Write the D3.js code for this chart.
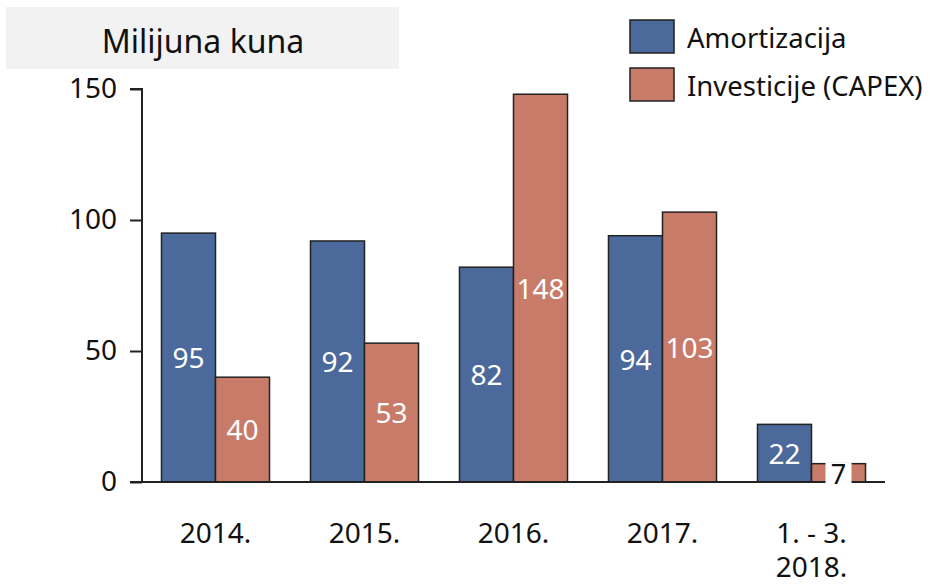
<!DOCTYPE html>
<html>
<head>
<meta charset="utf-8">
<script src="https://cdn.jsdelivr.net/npm/d3@7"></script>
<style>
body { margin: 0; background: #fff; }
text { font-family: "Noto Sans", "Open Sans", sans-serif; }
</style>
</head>
<body>
<svg id="chart" width="930" height="584"></svg>
<script>
var categories = ["2014.", "2015.", "2016.", "2017.", "1. - 3.|2018."];
var seriesNames = ["Amortizacija", "Investicije (CAPEX)"];
var amortizacija = [95, 92, 82, 94, 22];
var capex = [40, 53, 148, 103, 7];
var yTicks = [0, 50, 100, 150];
var colors = ["#4b6a9b", "#c97b69"];

var svg = d3.select("#chart");

var x = d3.scaleBand()
    .domain(categories)
    .range([141, 886])
    .paddingInner(0.275)
    .paddingOuter(0.1375);

var xs = d3.scaleBand()
    .domain([0, 1])
    .range([0, x.bandwidth()]);

var y = d3.scaleLinear()
    .domain([0, 150])
    .range([482, 89]);

// title box
svg.append("rect")
    .attr("x", 6).attr("y", 7)
    .attr("width", 393).attr("height", 62)
    .attr("fill", "#f2f2f2");
svg.append("text")
    .attr("x", 203).attr("y", 53)
    .attr("text-anchor", "middle")
    .attr("font-size", 32)
    .attr("fill", "#111")
    .text("Milijuna kuna");

// y axis
var yAxis = svg.append("g")
    .attr("transform", "translate(142,0)")
    .call(d3.axisLeft(y).tickValues(yTicks).tickSize(12).tickPadding(13));
yAxis.selectAll("path").attr("stroke", "#222").attr("stroke-width", 2).attr("d", "M-12," + y(150) + "H0V" + y(0));
yAxis.selectAll("line").attr("stroke", "#222").attr("stroke-width", 2);
yAxis.selectAll("text").attr("font-size", 28).attr("fill", "#111");

var data = categories.map(function(c, i) {
    return {cat: c, values: [amortizacija[i], capex[i]]};
});

var groups = svg.append("g").selectAll("g")
    .data(data).enter().append("g")
    .attr("transform", function(d) { return "translate(" + x(d.cat) + ",0)"; });

groups.selectAll("rect")
    .data(function(d) { return d.values.map(function(v, k) { return {k: k, v: v}; }); })
    .enter().append("rect")
    .attr("x", function(d) { return xs(d.k); })
    .attr("y", function(d) { return y(d.v); })
    .attr("width", xs.bandwidth())
    .attr("height", function(d) { return y(0) - y(d.v); })
    .attr("fill", function(d) { return colors[d.k]; })
    .attr("stroke", "#222")
    .attr("stroke-width", 1.5);

// x baseline
svg.append("line")
    .attr("x1", 130).attr("x2", 885)
    .attr("y1", y(0)).attr("y2", y(0))
    .attr("stroke", "#222").attr("stroke-width", 2);

// value labels
var labels = svg.append("g");
groups.each(function(d) {
    var gx = x(d.cat);
    d.values.forEach(function(v, k) {
        var cx = gx + xs(k) + xs.bandwidth() / 2;
        var small = (y(0) - y(v)) < 30;
        if (small) {
            labels.append("rect")
                .attr("x", cx - 13).attr("y", y(v) - 1)
                .attr("width", 26).attr("height", y(0) - y(v) + 4)
                .attr("fill", "#fff");
            labels.append("text")
                .attr("x", cx).attr("y", y(0) + 2)
                .attr("text-anchor", "middle")
                .attr("font-size", 27)
                .attr("fill", "#111")
                .text(v);
        } else {
            labels.append("text")
                .attr("x", cx).attr("y", (y(v) + y(0)) / 2)
                .attr("dy", "0.38em")
                .attr("text-anchor", "middle")
                .attr("font-size", 28)
                .attr("fill", "#fff")
                .text(v);
        }
    });
});

// category labels
groups.each(function(d) {
    var lines = d.cat.split("|");
    var t = d3.select(this).append("text")
        .attr("x", x.bandwidth() / 2)
        .attr("y", 543)
        .attr("text-anchor", "middle")
        .attr("font-size", 28)
        .attr("fill", "#111");
    lines.forEach(function(l, i) {
        t.append("tspan")
            .attr("x", x.bandwidth() / 2)
            .attr("dy", i === 0 ? 0 : 34)
            .text(l);
    });
});

// legend
var legend = svg.append("g").selectAll("g")
    .data(seriesNames).enter().append("g")
    .attr("transform", function(d, i) { return "translate(630," + (20 + i * 48) + ")"; });
legend.append("rect")
    .attr("width", 44).attr("height", 33)
    .attr("fill", function(d, i) { return colors[i]; })
    .attr("stroke", "#222").attr("stroke-width", 1.5);
legend.append("text")
    .attr("x", 57).attr("y", 18)
    .attr("dy", "0.35em")
    .attr("font-size", 27.5)
    .attr("fill", "#111")
    .text(function(d) { return d; });
</script>
</body>
</html>
